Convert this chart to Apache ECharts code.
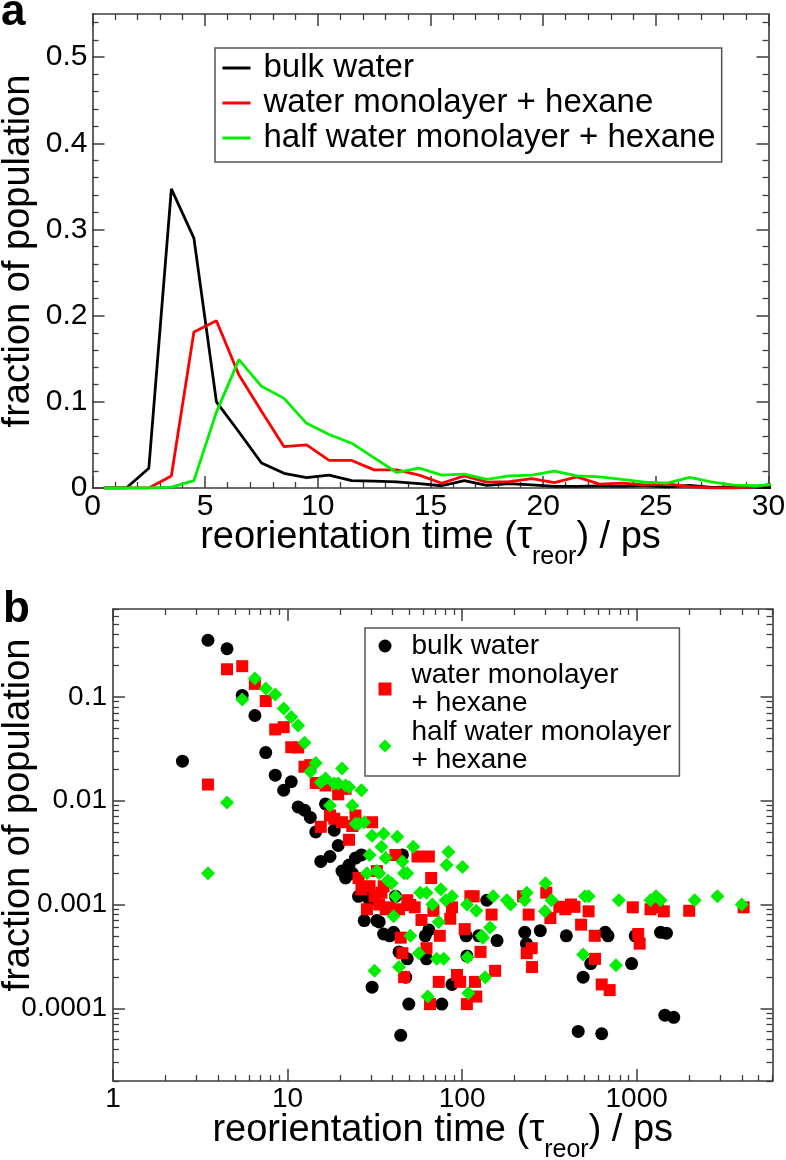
<!DOCTYPE html>
<html>
<head>
<meta charset="utf-8">
<script src="https://cdn.jsdelivr.net/npm/echarts@6/dist/echarts.min.js"></script>
<style>
html, body { margin: 0; padding: 0; background: #ffffff; }
#c { width: 786px; height: 1160px; }
</style>
</head>
<body>
<div id="c"></div>
<script>
// ---------------- data: panel a (linear histogram, 1 ps bins) ----------------
const binCentres = [0.5, 1.5, 2.5, 3.5, 4.5, 5.5, 6.5, 7.5, 8.5, 9.5, 10.5, 11.5, 12.5, 13.5, 14.5, 15.5,
  16.5, 17.5, 18.5, 19.5, 20.5, 21.5, 22.5, 23.5, 24.5, 25.5, 26.5, 27.5, 28.5, 29.5, 30.5];
const bulkA = [0, 0, 0.023, 0.347, 0.29, 0.1, 0.065, 0.029, 0.017, 0.012, 0.015, 0.0085, 0.008, 0.007, 0.005, 0.0026,
  0.0085, 0.003, 0.005, 0.0037, 0.002, 0.0018, 0.0024, 0.002, 0.0028, 0.0012, 0.003, 0.0007, 0.0012, 0.0011, 0.0002];
const monoA = [0, 0, 0, 0.014, 0.181, 0.194, 0.131, 0.089, 0.048, 0.05, 0.032, 0.032, 0.021, 0.021, 0.015, 0.0055,
  0.014, 0.0068, 0.0075, 0.011, 0.0062, 0.013, 0.0045, 0.0057, 0.0035, 0.0047, 0.0016, 0, 0, 0.0015, 0.0062];
const halfA = [0, 0, 0, 0.001, 0.0085, 0.088, 0.149, 0.118, 0.104, 0.075, 0.062, 0.052, 0.035, 0.018, 0.023, 0.015,
  0.016, 0.0099, 0.014, 0.015, 0.0197, 0.014, 0.013, 0.0099, 0.0069, 0.0056, 0.0124, 0.0069, 0.0034, 0.0026, 0.0046];

// ---------------- data: panel b (log-log scatter, non-empty bins) ----------------
const bulkBX = [2.5, 3.5, 4.5, 5.5, 6.5, 7.5, 8.5, 9.5, 10.5, 11.5, 12.5, 13.5, 14.5, 15.5, 16.5, 17.5, 18.5, 19.5,
  20.5, 21.5, 22.5, 23.5, 24.5, 25.5, 26.5, 27.5, 28.5, 29.5, 30.5, 32.5, 33.5, 35.5, 38.5, 40.5, 41.5, 43.5, 44.5,
  45.5, 47.5, 48.5, 49.5, 61.5, 62.5, 64.5, 76.5, 87.5, 105.5, 106.5, 124.5, 138.5, 158.5, 228.5, 233.5, 280.5,
  395.5, 462.5, 493.5, 545.5, 630.5, 660.5, 685.5, 935.5, 980.5, 1370.5, 1450.5, 1480.5, 1630.5];
const bulkBY = [0.024, 0.35, 0.29, 0.103, 0.066, 0.029, 0.0176, 0.0126, 0.0152, 0.0087, 0.0081, 0.0069, 0.005,
  0.0026, 0.0093, 0.0029, 0.0052, 0.0037, 0.0021, 0.0018, 0.0024, 0.002, 0.0028, 0.0012, 0.003, 0.0007, 0.0012,
  0.0011, 0.00016, 0.0007, 0.00068, 0.00052, 0.0005, 0.00054, 0.0012, 0.00035, 0.000055, 0.003, 0.0002, 0.0003,
  0.00011, 0.0005, 0.0003, 0.00057, 0.00011, 0.00017, 0.0005, 0.00032, 0.0005, 0.0011, 0.00045, 0.00054, 0.00042,
  0.00056, 0.0005, 0.00006, 0.0002, 0.00027, 0.000057, 0.00054, 0.0005, 0.00027, 0.0005, 0.00054, 0.000086,
  0.00053, 0.000082];

const monoBX = [3.5, 4.5, 5.5, 6.5, 7.5, 8.5, 9.5, 10.5, 11.5, 12.5, 13.5, 14.5, 15.5, 16.5, 17.5, 18.5, 19.5, 20.5,
  21.5, 22.5, 23.5, 24.5, 25.5, 26.5, 28.5, 29.5, 30.5, 31.5, 32.5, 33.5, 34.5, 35.5, 36.5, 38.5, 41.5, 43.5, 44.5,
  45.5, 46.5, 48.5, 50.5, 53.5, 55.5, 58.5, 62.5, 64.5, 65.5, 66.5, 68.5, 73.5, 74.5, 85.5, 87.5, 93.5, 97.5, 103.5,
  106.5, 111.5, 116.5, 118.5, 120.5, 127.5, 147.5, 154.5, 223.5, 234.5, 240.5, 250.5, 251.5, 303.5, 320.5, 360.5,
  390.5, 420.5, 440.5, 480.5, 530.5, 575.5, 577.5, 630.5, 700.5, 950.5, 1020.5, 1040.5, 1200.5, 1320.5, 1430.5,
  2000.5, 4100.5];
const monoBY = [0.0143, 0.184, 0.197, 0.133, 0.091, 0.0485, 0.051, 0.0327, 0.0325, 0.0212, 0.022, 0.0148, 0.0056,
  0.014, 0.0072, 0.0067, 0.0115, 0.0062, 0.013, 0.0042, 0.0057, 0.0072, 0.0018, 0.0014, 0.0009, 0.0015, 0.0062,
  0.0012, 0.0021, 0.001, 0.0013, 0.0015, 0.0009, 0.00094, 0.003, 0.0009, 0.00048, 0.00034, 0.0002, 0.0011, 0.00099,
  0.00094, 0.0029, 0.00071, 0.00038, 0.0029, 0.00011, 0.0018, 0.00087, 0.00018, 0.0005, 0.00073, 0.00094, 0.00021,
  0.00018, 0.00058, 0.00011, 0.0012, 0.0012, 0.00018, 0.00013, 0.00035, 0.0008, 0.00023, 0.0012, 0.00034, 0.0008,
  0.00038, 0.00025, 0.0013, 0.00074, 0.00095, 0.0009, 0.001, 0.00095, 0.00064, 0.00086, 0.0005, 0.0003, 0.00017,
  0.00015, 0.00094, 0.00052, 0.00042, 0.0009, 0.00094, 0.00086, 0.00087, 0.00094];

const halfBX = [3.5, 4.5, 5.5, 6.5, 7.5, 8.5, 9.5, 10.5, 11.5, 12.5, 13.5, 14.5, 15.5, 16.5, 17.5, 18.5, 19.5, 20.5,
  21.5, 22.5, 23.5, 24.5, 25.5, 26.5, 27.5, 28.5, 29.5, 30.5, 31.5, 32.5, 33.5, 34.5, 35.5, 36.5, 37.5, 39.5, 40.5,
  41.5, 42.5, 43.5, 45.5, 46.5, 48.5, 50.5, 52.5, 56.5, 57.5, 62.5, 63.5, 67.5, 71.5, 73.5, 75.5, 78.5, 80.5, 81.5,
  83.5, 87.5, 100.5, 106.5, 107.5, 108.5, 120.5, 129.5, 131.5, 135.5, 144.5, 150.5, 180.5, 189.5, 228.5, 234.5,
  298.5, 300.5, 325.5, 493.5, 505.5, 530.5, 760.5, 790.5, 1200.5, 1290.5, 1370.5, 2150.5, 2900.5, 4000.5];
const halfBY = [0.002, 0.0096, 0.094, 0.15, 0.12, 0.105, 0.077, 0.064, 0.053, 0.036, 0.019, 0.023, 0.015, 0.0163,
  0.009, 0.0146, 0.0146, 0.0204, 0.014, 0.0135, 0.009, 0.006, 0.006, 0.0126, 0.0062, 0.002, 0.003, 0.0046, 0.00023,
  0.0021, 0.002, 0.0036, 0.0048, 0.0028, 0.0017, 0.0016, 0.00077, 0.0012, 0.0045, 0.00025, 0.0026, 0.002, 0.002,
  0.0005, 0.0036, 0.00034, 0.0013, 0.0013, 0.00013, 0.001, 0.0003, 0.00068, 0.0014, 0.0003, 0.0011, 0.0024, 0.0032,
  0.0012, 0.0023, 0.001, 0.00031, 0.00014, 0.00087, 0.0005, 0.00048, 0.0002, 0.0006, 0.0012, 0.0011, 0.001, 0.0011,
  0.0013, 0.00086, 0.0016, 0.0011, 0.00033, 0.0012, 0.0012, 0.00026, 0.0011, 0.0011, 0.0012, 0.0011, 0.0011, 0.0012,
  0.001];

// ---------------- names & tick labels ----------------
const namesA = ['bulk water', 'water monolayer + hexane', 'half water monolayer + hexane'];
const namesB = ['bulk water', 'water monolayer\n+ hexane', 'half water monolayer\n+ hexane'];
const colours = ['#000000', '#ff0000', '#00ee00'];

const aXTicks = [0, 5, 10, 15, 20, 25, 30];
const aXTickLabels = ['0', '5', '10', '15', '20', '25', '30'];
const aYTicks = [0, 0.1, 0.2, 0.3, 0.4, 0.5];
const aYTickLabels = ['0', '0.1', '0.2', '0.3', '0.4', '0.5'];
const bXTicks = [1, 10, 100, 1000];
const bXTickLabels = ['1', '10', '100', '1000'];
const bYTicks = [0.0001, 0.001, 0.01, 0.1];
const bYTickLabels = ['0.0001', '0.001', '0.01', '0.1'];

// minor tick positions (axis decoration)
function linMinor(min, max, step, majorStep) {
  const out = [];
  for (let v = min; v <= max + 1e-9; v += step) {
    const r = Math.round(v / step) * step;
    if (Math.abs(r / majorStep - Math.round(r / majorStep)) > 1e-6) out.push(+r.toFixed(6));
  }
  return out;
}
function logMinor(min, max) {
  const out = [];
  for (let k = Math.floor(Math.log10(min)); k <= Math.ceil(Math.log10(max)); k++) {
    for (let d = 2; d <= 9; d++) {
      const v = Number((d * Math.pow(10, k)).toPrecision(6));
      if (v >= min * 0.999 && v <= max * 1.001) out.push(v);
    }
  }
  return out;
}

const FONT = 'Liberation Sans, Arial, Helvetica, sans-serif';
const AXC = '#3c3c3c';

function labelFor(ticks, labels, isLog) {
  return function (v) {
    let best = 0, bd = Infinity;
    ticks.forEach(function (t, i) {
      const d = isLog ? Math.abs(Math.log10(t) - Math.log10(v)) : Math.abs(t - v);
      if (d < bd) { bd = d; best = i; }
    });
    return labels[best];
  };
}

// builds 4 axes for one dimension of one grid: main(labels)+minor, mirrored+minor
function axisSet(dim, grid, type, min, max, major, labels, minor, labelOpt, nameOpt) {
  const sides = dim === 'x' ? ['bottom', 'top'] : ['left', 'right'];
  const isLog = type === 'log';
  const out = [];
  sides.forEach(function (side, si) {
    const base = {
      type: type, gridIndex: grid, position: side, min: min, max: max,
      splitLine: { show: false }, minorTick: { show: false }, minorSplitLine: { show: false },
      silent: true, nameMoveOverlap: false
    };
    if (isLog) base.logBase = 10;
    const mainAx = Object.assign({}, base, {
      axisLine: { show: true, onZero: false, lineStyle: { color: AXC, width: 1.6 } },
      axisTick: { show: true, inside: true, length: 12, customValues: major, lineStyle: { color: AXC, width: 1.5 } },
      axisLabel: si === 0 ? Object.assign({
        show: true, customValues: major, formatter: labelFor(major, labels, isLog),
        color: '#000', fontFamily: FONT, showMinLabel: true, showMaxLabel: true
      }, labelOpt) : { show: false }
    });
    if (si === 0 && nameOpt) Object.assign(mainAx, nameOpt);
    out.push(mainAx);
    out.push(Object.assign({}, base, {
      axisLine: { show: false, onZero: false },
      axisTick: { show: true, inside: true, length: 6, customValues: minor, lineStyle: { color: AXC, width: 1.3 } },
      axisLabel: { show: false }
    }));
  });
  return out;
}

const subRich = {
  n: { fontSize: 38, lineHeight: 44, fontFamily: FONT, color: '#000' },
  s: { fontSize: 25, lineHeight: 25, fontFamily: FONT, color: '#000', padding: [38, 0, 0, 0] }
};
const xTitle = '{n|reorientation time (τ}{s|reor}{n|) / ps}';
const yRich = {
  n: { fontSize: 38, lineHeight: 44, fontFamily: FONT, color: '#000' },
  g: { fontSize: 38, lineHeight: 44, width: 60 }
};

const xAxes = []
  .concat(axisSet('x', 0, 'value', 0, 30, aXTicks, aXTickLabels, linMinor(0, 30, 1, 5),
    { fontSize: 30, margin: 4 },
    { name: xTitle, nameLocation: 'middle', nameGap: 28,
      nameTextStyle: { fontSize: 38, fontFamily: FONT, color: '#000', rich: subRich } }))
  .concat(axisSet('x', 1, 'log', 1, 6000, bXTicks, bXTickLabels, logMinor(1, 6000),
    { fontSize: 28, margin: 4 },
    { name: xTitle, nameLocation: 'middle', nameGap: 28,
      nameTextStyle: { fontSize: 38, fontFamily: FONT, color: '#000', rich: subRich } }));

const yAxes = []
  .concat(axisSet('y', 0, 'value', 0, 0.55, aYTicks, aYTickLabels, linMinor(0, 0.55, 0.02, 0.1),
    { fontSize: 30, margin: 5 },
    { name: 'fraction of population', nameLocation: 'middle', nameGap: 52,
      nameTextStyle: { fontSize: 38, fontFamily: FONT, color: '#000', lineHeight: 44 } }))
  .concat(axisSet('y', 1, 'log', 0.00002, 0.7, bYTicks, bYTickLabels, logMinor(0.00002, 0.7),
    { fontSize: 28, margin: 6 },
    { name: '{g| }{n|fraction of population}', nameLocation: 'middle', nameGap: 72,
      nameTextStyle: { fontSize: 38, fontFamily: FONT, color: '#000', lineHeight: 44, rich: yRich } }));

function pairs(xs, ys) { return xs.map(function (x, i) { return [x, ys[i]]; }); }

const seriesA = [bulkA, monoA, halfA].map(function (ys, k) {
  return {
    type: 'line', name: namesA[k], xAxisIndex: 0, yAxisIndex: 0,
    data: pairs(binCentres, ys), symbol: 'none', clip: true,
    color: colours[k], lineStyle: { color: colours[k], width: 2.8 }, z: 3
  };
});
const symbolsB = ['circle', 'rect', 'diamond'];
const sizesB = [13, 12, 14];
const seriesB = [[bulkBX, bulkBY], [monoBX, monoBY], [halfBX, halfBY]].map(function (d, k) {
  return {
    type: 'scatter', name: namesB[k], xAxisIndex: 4, yAxisIndex: 4,
    data: pairs(d[0], d[1]), symbol: symbolsB[k], symbolSize: sizesB[k], clip: true,
    itemStyle: { color: colours[k], opacity: 1 }, z: 3 + k
  };
});

const option = {
  animation: false,
  backgroundColor: '#ffffff',
  textStyle: { fontFamily: FONT },
  grid: [
    { left: 92.5, top: 14, width: 676, height: 474, outerBoundsMode: 'none', containLabel: false },
    { left: 113, top: 609, width: 659.5, height: 472, outerBoundsMode: 'none', containLabel: false }
  ],
  xAxis: xAxes,
  yAxis: yAxes,
  legend: [
    {
      orient: 'vertical', left: 215, top: 48, padding: [3.5, 6, 7.5, 7.5], itemGap: 2,
      itemWidth: 28, itemHeight: 3, icon: 'rect', selectedMode: false,
      borderColor: '#555', borderWidth: 1.5, borderRadius: 0, backgroundColor: '#fff',
      textStyle: { fontSize: 33, lineHeight: 33, fontFamily: FONT, color: '#000', padding: [0, 0, 0, 8] },
      data: namesA.map(function (n, k) { return { name: n, icon: 'rect', itemStyle: { color: colours[k] } }; })
    },
    {
      orient: 'vertical', left: 365, top: 628, padding: [4, 8, 2, 13.5], itemGap: 1,
      itemWidth: 13, itemHeight: 13, selectedMode: false,
      borderColor: '#555', borderWidth: 1.5, borderRadius: 0, backgroundColor: '#fff',
      textStyle: { fontSize: 28, lineHeight: 28, fontFamily: FONT, color: '#000', padding: [0, 0, 0, 15] },
      data: namesB.map(function (n, k) { return { name: n, icon: symbolsB[k], itemStyle: { color: colours[k] } }; })
    }
  ],
  graphic: [
    { type: 'text', left: 1, top: -9, style: { text: 'a', font: 'bold 44px ' + FONT, fill: '#000' } },
    { type: 'text', left: 3, top: 588, style: { text: 'b', font: 'bold 44px ' + FONT, fill: '#000' } }
  ],
  series: seriesA.concat(seriesB)
};

const chart = echarts.init(document.getElementById('c'), null, { renderer: 'canvas', width: 786, height: 1160 });
chart.setOption(option);
</script>
</body>
</html>
